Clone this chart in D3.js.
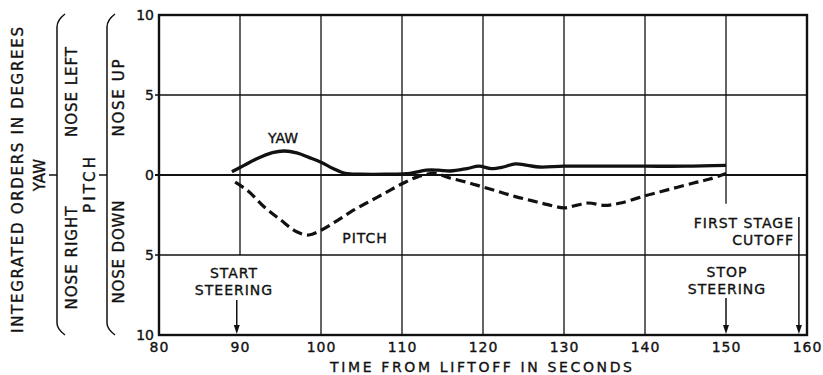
<!DOCTYPE html>
<html>
<head>
<meta charset="utf-8">
<script src="https://cdn.jsdelivr.net/npm/d3@7"></script>
<style>
  body { margin: 0; background: #fff; }
  svg text { font-family: "DejaVu Sans", sans-serif; fill: #111; stroke: #111; stroke-width: 0.35; }
</style>
</head>
<body>
<div id="chart"></div>
<script>
// time from liftoff (s) and integrated orders (deg)
const yawTime = [89, 90.5, 92, 94, 95.5, 97, 98.5, 100, 101.5, 103, 105, 108, 111, 113, 114.5, 116, 118, 119.5, 121, 122.5, 124, 125.5, 127, 130, 135, 140, 145, 150];
const yawDeg = [0.2, 0.6, 1.0, 1.4, 1.5, 1.38, 1.1, 0.8, 0.4, 0.1, 0.05, 0.05, 0.1, 0.3, 0.3, 0.25, 0.4, 0.55, 0.4, 0.5, 0.7, 0.6, 0.5, 0.55, 0.55, 0.55, 0.55, 0.6];
const pitchTime = [89.4, 91, 93, 95, 97, 98.5, 100, 102, 104, 106, 108, 110, 112, 114, 116, 118, 120, 122, 124, 126, 128, 130, 131.5, 133, 135, 137, 140, 143, 146, 148, 150];
const pitchDeg = [-0.45, -1.0, -2.0, -2.8, -3.55, -3.75, -3.45, -2.85, -2.2, -1.65, -1.1, -0.55, -0.1, 0.1, -0.2, -0.45, -0.75, -1.05, -1.35, -1.6, -1.85, -2.05, -1.9, -1.75, -1.9, -1.75, -1.3, -0.9, -0.5, -0.25, 0.1];
const xTicks = [80, 90, 100, 110, 120, 130, 140, 150, 160];
const yTicks = [-10, -5, 0, 5, 10];

const width = 823, height = 375;
const svg = d3.select("#chart").append("svg")
  .attr("width", width)
  .attr("height", height);

const x = d3.scaleLinear().domain([80, 160]).range([159, 807]);
const y = d3.scaleLinear().domain([-10, 10]).range([335, 15]);

// grid; some verticals stop short where the notes sit
const grid = svg.append("g").attr("stroke", "#111").attr("stroke-width", 1.3);
xTicks.slice(1, -1).forEach(t => {
  let bottom = -10;
  if (t === 90) bottom = -5;
  if (t === 150) bottom = -1.8;
  grid.append("line")
    .attr("x1", x(t)).attr("x2", x(t))
    .attr("y1", y(10)).attr("y2", y(bottom));
});
yTicks.slice(1, -1).forEach(v => {
  grid.append("line")
    .attr("x1", x(80) - 4).attr("x2", x(160))
    .attr("y1", y(v)).attr("y2", y(v))
    .attr("stroke-width", v === 0 ? 1.8 : 1.3);
});

svg.append("rect")
  .attr("x", x(80)).attr("y", y(10))
  .attr("width", x(160) - x(80)).attr("height", y(-10) - y(10))
  .attr("fill", "none").attr("stroke", "#111").attr("stroke-width", 2.4);

// axes
const xAxis = d3.axisBottom(x).tickValues(xTicks).tickSize(0).tickPadding(7);
svg.append("g").attr("transform", `translate(0,${y(-10)})`).call(xAxis)
  .call(g => g.select(".domain").remove())
  .selectAll("text").attr("font-size", 14).attr("letter-spacing", 1)
  .attr("font-family", "DejaVu Sans");

const yAxis = d3.axisLeft(y).tickValues(yTicks).tickSize(0).tickPadding(5)
  .tickFormat(d => Math.abs(d));
svg.append("g").attr("transform", `translate(${x(80)},0)`).call(yAxis)
  .call(g => g.select(".domain").remove())
  .selectAll("text").attr("font-size", 14).attr("font-family", "DejaVu Sans");

svg.append("text")
  .attr("x", 481).attr("y", 372)
  .attr("text-anchor", "middle")
  .attr("font-size", 14)
  .attr("textLength", 302)
  .text("TIME FROM LIFTOFF IN SECONDS");

// series
const line = d3.line()
  .x(d => x(d[0])).y(d => y(d[1]))
  .curve(d3.curveCatmullRom);

svg.append("path")
  .datum(d3.zip(yawTime, yawDeg))
  .attr("d", line)
  .attr("fill", "none").attr("stroke", "#111").attr("stroke-width", 3.3);

svg.append("path")
  .datum(d3.zip(pitchTime, pitchDeg))
  .attr("d", line)
  .attr("fill", "none").attr("stroke", "#111").attr("stroke-width", 3.2)
  .attr("stroke-dasharray", "10,5");

svg.append("text").attr("x", 283).attr("y", 143).attr("text-anchor", "middle")
  .attr("font-size", 14).text("YAW");
svg.append("text").attr("x", 365).attr("y", 243).attr("text-anchor", "middle")
  .attr("font-size", 14).attr("letter-spacing", 1).text("PITCH");

// event markers
const events = [
  { t: 89.6, lines: ["START", "STEERING"], top: 300, tx: 234, anchor: "middle", ty: 278 },
  { t: 150, lines: ["STOP", "STEERING"], top: 298, tx: 727, anchor: "middle", ty: 277 },
  { t: 159, lines: ["FIRST STAGE", "CUTOFF"], top: 217, tx: 794, anchor: "end", ty: 228 }
];
events.forEach(e => {
  svg.append("line")
    .attr("x1", x(e.t)).attr("x2", x(e.t))
    .attr("y1", e.top).attr("y2", y(-10) - 4)
    .attr("stroke", "#111").attr("stroke-width", 1.5);
  svg.append("path")
    .attr("d", `M${x(e.t) - 3},${y(-10) - 10}L${x(e.t) + 3},${y(-10) - 10}L${x(e.t)},${y(-10) - 1}Z`)
    .attr("fill", "#111");
  e.lines.forEach((s, i) => {
    svg.append("text")
      .attr("x", e.tx).attr("y", e.ty + i * 17)
      .attr("text-anchor", e.anchor)
      .attr("font-size", 14).attr("letter-spacing", 1)
      .text(s);
  });
});

// left side labels and braces
function vtext(cx, cy, s, len) {
  const t = svg.append("text")
    .attr("transform", `translate(${cx},${cy}) rotate(-90)`)
    .attr("text-anchor", "middle")
    .attr("dominant-baseline", "central")
    .attr("font-size", 15)
    .text(s);
  if (len) t.attr("textLength", len).attr("lengthAdjust", "spacing");
}
vtext(18, 180, "INTEGRATED ORDERS IN DEGREES", 306);
vtext(40, 175, "YAW");
vtext(72, 92, "NOSE LEFT", 90);
vtext(72, 258, "NOSE RIGHT", 103);
vtext(90, 185, "PITCH", 56);
vtext(119, 98, "NOSE UP", 77);
vtext(119, 252, "NOSE DOWN", 103);

function brace(bx) {
  svg.append("path")
    .attr("d", `M${bx + 8},14 Q${bx},20 ${bx},27 L${bx},323 Q${bx},329 ${bx + 8},335 M${bx - 8},${y(0)} L${bx},${y(0)}`)
    .attr("fill", "none").attr("stroke", "#111").attr("stroke-width", 1.5);
}
brace(57);
brace(107);
</script>
</body>
</html>
